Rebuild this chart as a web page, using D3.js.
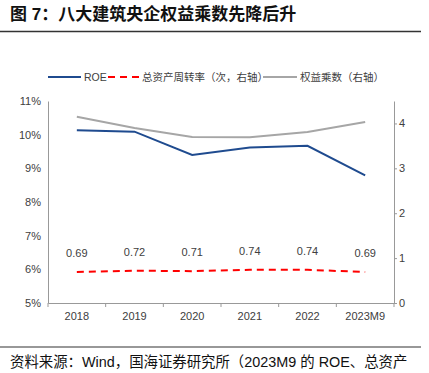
<!DOCTYPE html>
<html>
<head>
<meta charset="utf-8">
<script src="https://cdn.jsdelivr.net/npm/d3@7"></script>
<style>
  body { margin: 0; background: #fff; }
  text { font-family: "Liberation Sans", Arial, "Noto Sans CJK SC", sans-serif; }
  .cjk { font-family: "Liberation Sans", "Noto Sans CJK SC", sans-serif; }
</style>
</head>
<body>
<div id="viz"></div>
<script>
// data
var years = ["2018", "2019", "2020", "2021", "2022", "2023M9"];
var roe = [10.13, 10.09, 9.40, 9.62, 9.67, 8.79];          // %, left axis
var turnover = [0.69, 0.72, 0.71, 0.74, 0.74, 0.69];       // right axis
var multiplier = [4.15, 3.90, 3.70, 3.69, 3.81, 4.03];     // right axis
var leftTicks = [5, 6, 7, 8, 9, 10, 11];
var rightTicks = [0, 1, 2, 3, 4];

var width = 429, height = 373;
var plotLeft = 48, plotRight = 394, plotTop = 101, plotBottom = 303;

var svg = d3.select("#viz").append("svg")
    .attr("width", width)
    .attr("height", height);

// title + rules
svg.append("text")
    .attr("class", "cjk")
    .attr("x", 10).attr("y", 20)
    .attr("font-size", 17).attr("font-weight", "bold").attr("fill", "#111")
    .text("图 7：八大建筑央企权益乘数先降后升");
svg.append("line").attr("x1", 0).attr("x2", 421).attr("y1", 31.5).attr("y2", 31.5)
    .attr("stroke", "#333").attr("stroke-width", 1.5);
svg.append("line").attr("x1", 0).attr("x2", 421).attr("y1", 347).attr("y2", 347)
    .attr("stroke", "#333").attr("stroke-width", 1.2);
svg.append("text")
    .attr("class", "cjk")
    .attr("x", 10).attr("y", 367)
    .attr("font-size", 14.4).attr("fill", "#111")
    .text("资料来源：Wind，国海证券研究所（2023M9 的 ROE、总资产");

// scales
var x = d3.scaleBand().domain(years).range([plotLeft, plotRight]);
var yL = d3.scaleLinear().domain([5, 11]).range([plotBottom, plotTop]);
var yR = d3.scaleLinear().domain([0, 4.5]).range([plotBottom, plotTop]);
var cx = function(d) { return x(d) + x.bandwidth() / 2; };

// axes
var gL = svg.append("g")
    .attr("transform", "translate(" + plotLeft + ",0)")
    .call(d3.axisLeft(yL).tickValues(leftTicks).tickSize(0).tickPadding(7)
        .tickFormat(function(d) { return d + "%"; }));

var gR = svg.append("g")
    .attr("transform", "translate(" + plotRight + ",0)")
    .call(d3.axisRight(yR).tickValues(rightTicks).tickSize(3).tickSizeOuter(0).tickPadding(2)
        .tickFormat(d3.format("d")));

var gX = svg.append("g")
    .attr("transform", "translate(0," + plotBottom + ")")
    .call(d3.axisBottom(x).tickSize(0).tickPadding(9));

// tick marks between the categories
svg.append("g").selectAll("line")
    .data(years.concat(["end"]))
    .enter().append("line")
    .attr("x1", function(d, i) { return i < years.length ? x(d) : x.range()[1]; })
    .attr("x2", function(d, i) { return i < years.length ? x(d) : x.range()[1]; })
    .attr("y1", plotBottom).attr("y2", plotBottom + 4)
    .attr("stroke", "#999");

[gL, gR, gX].forEach(function(g) {
    g.select(".domain").attr("stroke", "#999");
    g.selectAll(".tick line").attr("stroke", "#999");
    g.selectAll("text").attr("font-size", 11).attr("fill", "#404040")
        .attr("font-family", "'Liberation Sans', Arial, sans-serif");
});

// lines
var lineL = d3.line().x(function(d, i) { return cx(years[i]); }).y(function(d) { return yL(d); });
var lineR = d3.line().x(function(d, i) { return cx(years[i]); }).y(function(d) { return yR(d); });

svg.append("path").datum(multiplier)
    .attr("d", lineR).attr("fill", "none")
    .attr("stroke", "#a6a6a6").attr("stroke-width", 2);

svg.append("path").datum(roe)
    .attr("d", lineL).attr("fill", "none")
    .attr("stroke", "#1f4b8f").attr("stroke-width", 2);

svg.append("path").datum(turnover)
    .attr("d", lineR).attr("fill", "none")
    .attr("stroke", "#ff0000").attr("stroke-width", 2)
    .attr("stroke-dasharray", "7,5");

svg.selectAll(".tlabel")
    .data(turnover)
    .enter().append("text")
    .attr("class", "tlabel")
    .attr("x", function(d, i) { return cx(years[i]); })
    .attr("y", function(d) { return yR(d) - 19; })
    .attr("dy", "0.35em")
    .attr("text-anchor", "middle")
    .attr("font-size", 11).attr("fill", "#404040")
    .text(function(d) { return d.toFixed(2); });

// legend
var legend = [
    { name: "ROE", color: "#1f4b8f", dash: null, x1: 48, x2: 81 },
    { name: "总资产周转率（次，右轴）", color: "#ff0000", dash: "7,5", x1: 108, x2: 139 },
    { name: "权益乘数（右轴）", color: "#a6a6a6", dash: null, x1: 263, x2: 297 }
];
var lg = svg.append("g").selectAll("g").data(legend).enter().append("g");
lg.append("line")
    .attr("x1", function(d) { return d.x1; }).attr("x2", function(d) { return d.x2; })
    .attr("y1", 77).attr("y2", 77)
    .attr("stroke", function(d) { return d.color; }).attr("stroke-width", 2)
    .attr("stroke-dasharray", function(d) { return d.dash; });
lg.append("text")
    .attr("class", "cjk")
    .attr("x", function(d) { return d.x2 + 3; })
    .attr("y", 77).attr("dy", "0.35em")
    .attr("font-size", 10.5).attr("fill", "#404040")
    .text(function(d) { return d.name; });
</script>
</body>
</html>
